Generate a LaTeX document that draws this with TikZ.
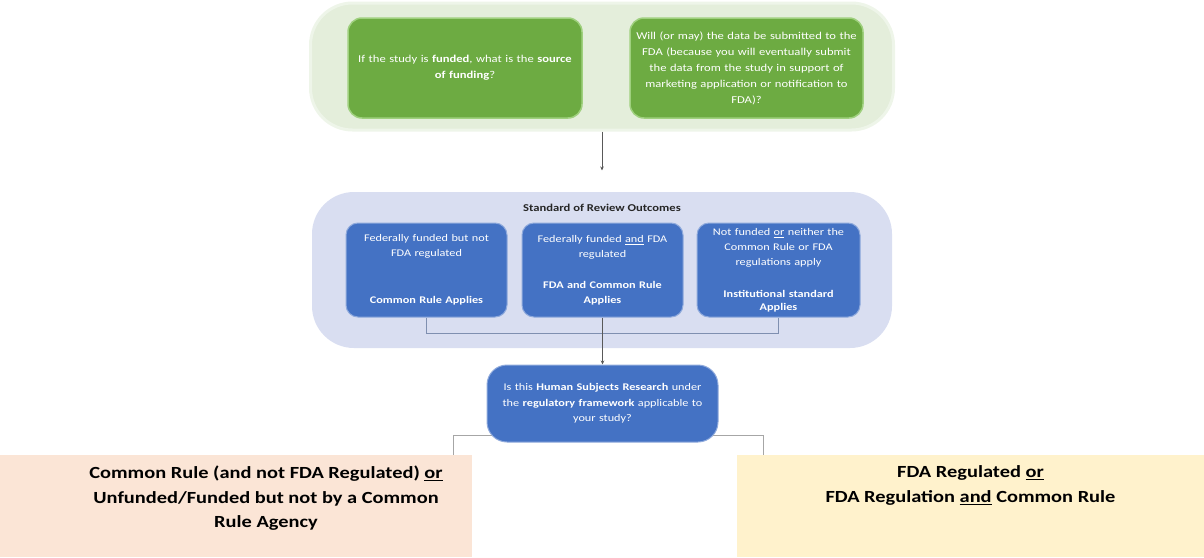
\documentclass[tikz,border=0pt]{standalone}
\usepackage{fontspec}
\setmainfont{Carlito}[FakeStretch=1.2]
\usetikzlibrary{arrows.meta,backgrounds}
\definecolor{topfill}{HTML}{E4EEDB}
\definecolor{topedge}{HTML}{EEF5E9}
\definecolor{gfill}{HTML}{6DAB42}
\definecolor{gedge}{HTML}{9FD07E}
\definecolor{midfill}{HTML}{D9DEF1}
\definecolor{bfill}{HTML}{4472C4}
\definecolor{bedge}{HTML}{8FAADC}
\definecolor{peach}{HTML}{FBE5D6}
\definecolor{cream}{HTML}{FFF2CC}
\definecolor{conn}{HTML}{595959}
\definecolor{brk}{HTML}{7F8FB0}
\definecolor{lgray}{HTML}{A6A6A6}
\tikzset{
  container/.style={draw=#1, line width=3pt, rounded corners=42pt, inner sep=0pt},
  greenbox/.style={fill=gfill, draw=gedge, line width=1.5pt, rounded corners=14pt, text=white,
     minimum width=233pt, minimum height=100pt, align=center, font=\fontsize{10.5}{16}\selectfont, inner sep=3pt},
  bluebox/.style={fill=bfill, draw=bedge, line width=1pt, rounded corners=12pt, text=white,
     minimum height=94pt, align=center, font=\fontsize{10.2}{15}\selectfont, inner sep=2pt},
  outbox/.style={minimum height=102pt, inner sep=0pt},
  outtext/.style={anchor=north, align=center, font=\bfseries\fontsize{17}{24.5}\selectfont, inner sep=0pt},
  conline/.style={draw=conn, line width=0.7pt},
  arr/.style={conline, -{Stealth[length=4pt,width=3.5pt]}},
  brkline/.style={draw=brk, line width=0.7pt},
  gline/.style={draw=lgray, line width=0.8pt}
}
\begin{document}
\begin{tikzpicture}[x=1pt,y=-1pt]
\useasboundingbox (0,0) rectangle (1204,557);
% containers
\node[container=topedge, fill=topfill, minimum width=583pt, minimum height=127pt] (topc) at (602,66.5) {};
\node[container=white, fill=midfill, draw=none, minimum width=580pt, minimum height=156pt] (midc) at (602,270) {};
% top green boxes
\node[greenbox, text width=226pt, minimum width=234pt] (g1) at (465,68)
  {If the study is \textbf{funded}, what is the \textbf{source\\ of funding}?};
\node[greenbox, text width=226pt] (g2) at (746.5,68)
  {Will (or may) the data be submitted to the\\ FDA (because you will eventually submit\\ the data from the study in support of\\ marketing application or notification to\\ FDA)?};
% title
\node[font=\bfseries\fontsize{10.5}{12}\selectfont, text=black!85] (title) at (602,208) {Standard of Review Outcomes};
% blue boxes
\node[bluebox, minimum width=161pt, text width=155pt] (bA) at (426.5,270)
  {Federally funded but not\\ FDA regulated\\[32pt] \textbf{Common Rule Applies}};
\node[bluebox, minimum width=161pt, text width=155pt] (bB) at (602.5,270)
  {Federally funded \underline{and} FDA\\ regulated\\[16pt] \textbf{FDA and Common Rule}\\ \textbf{Applies}};
\node[bluebox, minimum width=163pt, text width=157pt] (bC) at (778.5,270)
  {Not funded \underline{or} neither the\\ Common Rule or FDA\\ regulations apply\\[17pt] \textbf{Institutional standard}\\[-2pt] \textbf{Applies}};
% question box
\node[bluebox, rounded corners=20pt, minimum width=231pt, minimum height=77pt, text width=225pt,
      font=\fontsize{10.2}{15.5}\selectfont] (q) at (602.5,403.5)
  {Is this \textbf{Human Subjects Research} under\\ the \textbf{regulatory framework} applicable to\\ your study?};
% bottom boxes
\node[outbox, fill=peach, minimum width=472pt] (lb) at (236,506) {};
\node[outbox, fill=cream, minimum width=467pt] (rb) at (970.5,506) {};
\node[outtext] (lbt) at ([xshift=30pt,yshift=-11pt]lb.north)
  {Common Rule (and not FDA Regulated) \underline{or}\\ Unfunded/Funded but not by a Common\\ Rule Agency};
\node[outtext] (rbt) at ([yshift=-11pt]rb.north)
  {FDA Regulated \underline{or}\\ FDA Regulation \underline{and} Common Rule};
\coordinate (qL) at (453,435);
\coordinate (qR) at (763,435);
% connectors
\draw[arr, shorten >=20pt] (topc.south) -- (topc.south |- midc.north);
\draw[brkline] (bA.south) -- ++(0,16) -| (bC.south);
\draw[arr] (bB.south) -- (q.north);
\begin{pgfonlayer}{background}
\draw[gline] (lb.north -| qL) -- (qL) -- (qR) -- (rb.north -| qR);
\end{pgfonlayer}
\end{tikzpicture}
\end{document}
